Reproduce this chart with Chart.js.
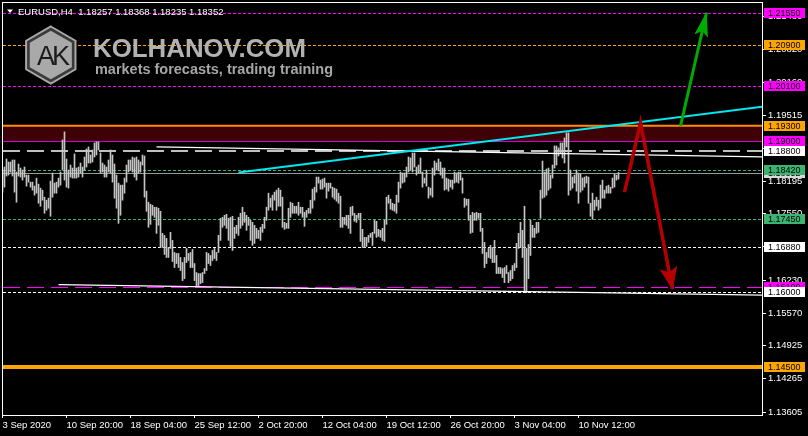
<!DOCTYPE html>
<html>
<head>
<meta charset="utf-8">
<script src="https://cdn.jsdelivr.net/npm/chart.js@4"></script>
<style>
html, body { margin: 0; padding: 0; background: #000; }
#chart { display: block; }
</style>
</head>
<body>
<canvas id="chart" width="808" height="436"></canvas>
<script>
// ---- data ----
const symbolTitle = "EURUSD,H4  1.18257 1.18368 1.18235 1.18352";
const brandName = "KOLHANOV.COM";
const brandTagline = "markets forecasts, trading training";

const xTickLabels = ["3 Sep 2020", "10 Sep 20:00", "18 Sep 04:00", "25 Sep 12:00", "2 Oct 20:00",
    "12 Oct 04:00", "19 Oct 12:00", "26 Oct 20:00", "3 Nov 04:00", "10 Nov 12:00"];
const barsPerLabel = 32;

const yTicks = [1.21480, 1.20820, 1.20160, 1.19515, 1.18855, 1.18195, 1.17550,
    1.16890, 1.16230, 1.15570, 1.14925, 1.14265, 1.13605];

const barHigh = [
    1.1842, 1.1848, 1.1864, 1.1858, 1.1858, 1.1862, 1.1862, 1.1838, 1.1854, 1.1846,
    1.1842, 1.1848, 1.1832, 1.1832, 1.1818, 1.1818, 1.1810, 1.1826, 1.1814, 1.1806,
    1.1802, 1.1788, 1.1782, 1.1786, 1.1820, 1.1836, 1.1816, 1.1818, 1.1826, 1.1838,
    1.1902, 1.1918, 1.1864, 1.1842, 1.1852, 1.1846, 1.1874, 1.1846, 1.1848, 1.1856,
    1.1848, 1.1868, 1.1884, 1.1888, 1.1872, 1.1882, 1.1896, 1.1898, 1.1898, 1.1876,
    1.1856, 1.1852, 1.1848, 1.1862, 1.1882, 1.1872, 1.1854, 1.1832, 1.1816, 1.1812,
    1.1812, 1.1826, 1.1852, 1.1862, 1.1862, 1.1868, 1.1866, 1.1868, 1.1862, 1.1858,
    1.1872, 1.1870, 1.1800, 1.1778, 1.1774, 1.1772, 1.1768, 1.1768, 1.1766, 1.1760,
    1.1716, 1.1712, 1.1706, 1.1688, 1.1718, 1.1702, 1.1678, 1.1676, 1.1676, 1.1668,
    1.1658, 1.1668, 1.1686, 1.1676, 1.1678, 1.1684, 1.1656, 1.1638, 1.1636, 1.1636,
    1.1638, 1.1646, 1.1678, 1.1676, 1.1672, 1.1682, 1.1686, 1.1678, 1.1712, 1.1746,
    1.1748, 1.1752, 1.1754, 1.1746, 1.1748, 1.1750, 1.1728, 1.1732, 1.1748, 1.1756,
    1.1768, 1.1758, 1.1752, 1.1748, 1.1742, 1.1738, 1.1732, 1.1726, 1.1722, 1.1728,
    1.1734, 1.1748, 1.1768, 1.1796,
    1.1786, 1.1792, 1.1798, 1.1802, 1.1806, 1.1802,
    1.1788, 1.1738, 1.1736, 1.1766, 1.1778, 1.1776, 1.1770, 1.1770, 1.1778, 1.1768,
    1.1768, 1.1758, 1.1762, 1.1766, 1.1782, 1.1804, 1.1808, 1.1828, 1.1828, 1.1822,
    1.1824, 1.1826, 1.1816, 1.1816, 1.1816, 1.1808, 1.1806, 1.1804, 1.1796, 1.1790,
    1.1748, 1.1748, 1.1752, 1.1752, 1.1768, 1.1770, 1.1756, 1.1752, 1.1756, 1.1756,
    1.1724, 1.1708, 1.1708, 1.1712, 1.1716, 1.1718, 1.1742, 1.1740, 1.1724, 1.1722,
    1.1726, 1.1742, 1.1788, 1.1792, 1.1784, 1.1776, 1.1774, 1.1792, 1.1818, 1.1838,
    1.1836, 1.1836, 1.1848, 1.1868, 1.1866, 1.1876, 1.1876, 1.1848, 1.1852, 1.1866,
    1.1838, 1.1826, 1.1842, 1.1808, 1.1806, 1.1846, 1.1860, 1.1856, 1.1864, 1.1858,
    1.1846, 1.1846, 1.1826, 1.1824, 1.1822, 1.1822, 1.1838, 1.1836, 1.1838, 1.1838,
    1.1826, 1.1786, 1.1784, 1.1784, 1.1752, 1.1758, 1.1756, 1.1758, 1.1756, 1.1756,
    1.1726, 1.1698, 1.1678, 1.1686, 1.1692, 1.1688, 1.1702, 1.1672, 1.1648, 1.1648,
    1.1646, 1.1648, 1.1652, 1.1638, 1.1642, 1.1652, 1.1656, 1.1696, 1.1716, 1.1738,
    1.1722, 1.1770, 1.1686, 1.1694, 1.1742, 1.1732, 1.1726, 1.1738, 1.1738,
    1.1802, 1.1860, 1.1838, 1.1844, 1.1846, 1.1832, 1.1852, 1.1890, 1.1890, 1.1886, 1.1896,
    1.1896, 1.1906, 1.1916, 1.1916, 1.1842, 1.1828, 1.1832, 1.1842, 1.1836, 1.1834,
    1.1826, 1.1828, 1.1830, 1.1828, 1.1776, 1.1796, 1.1782, 1.1788, 1.1782, 1.1812,
    1.1822, 1.1802, 1.1810, 1.1812, 1.1808, 1.1826, 1.1834, 1.1832, 1.1837
];
const barLow = [
    1.1798, 1.1808, 1.1830, 1.1832, 1.1838, 1.1830, 1.1798, 1.1778, 1.1830, 1.1828,
    1.1822, 1.1828, 1.1810, 1.1818, 1.1808, 1.1802, 1.1792, 1.1796, 1.1776, 1.1770,
    1.1782, 1.1756, 1.1762, 1.1766, 1.1750, 1.1788, 1.1796, 1.1796, 1.1808, 1.1812,
    1.1842, 1.1822, 1.1808, 1.1806, 1.1828, 1.1826, 1.1826, 1.1826, 1.1828, 1.1836,
    1.1828, 1.1842, 1.1848, 1.1856, 1.1856, 1.1858, 1.1868, 1.1872, 1.1882, 1.1836,
    1.1838, 1.1828, 1.1828, 1.1838, 1.1836, 1.1818, 1.1786, 1.1766, 1.1736, 1.1752,
    1.1782, 1.1796, 1.1818, 1.1838, 1.1842, 1.1838, 1.1828, 1.1822, 1.1836, 1.1838,
    1.1852, 1.1788, 1.1760, 1.1728, 1.1734, 1.1752, 1.1748, 1.1716, 1.1732, 1.1688,
    1.1688, 1.1674, 1.1668, 1.1668, 1.1686, 1.1660, 1.1648, 1.1656, 1.1648, 1.1642,
    1.1622, 1.1626, 1.1658, 1.1662, 1.1648, 1.1648, 1.1622, 1.1612, 1.1612, 1.1616,
    1.1618, 1.1636, 1.1642, 1.1656, 1.1652, 1.1662, 1.1666, 1.1662, 1.1678, 1.1702,
    1.1728, 1.1732, 1.1726, 1.1702, 1.1690, 1.1682, 1.1706, 1.1716, 1.1712, 1.1726,
    1.1732, 1.1738, 1.1722, 1.1732, 1.1702, 1.1692, 1.1696, 1.1706, 1.1706, 1.1702,
    1.1718, 1.1726, 1.1742, 1.1762,
    1.1768, 1.1762, 1.1782, 1.1762, 1.1770, 1.1770,
    1.1728, 1.1724, 1.1726, 1.1726, 1.1748, 1.1756, 1.1756, 1.1756, 1.1752, 1.1756,
    1.1748, 1.1730, 1.1748, 1.1756, 1.1756, 1.1766, 1.1782, 1.1798, 1.1816, 1.1804,
    1.1804, 1.1808, 1.1786, 1.1800, 1.1806, 1.1788, 1.1784, 1.1780, 1.1776, 1.1728,
    1.1728, 1.1734, 1.1732, 1.1726, 1.1716, 1.1752, 1.1740, 1.1738, 1.1746, 1.1700,
    1.1688, 1.1688, 1.1690, 1.1698, 1.1708, 1.1692, 1.1716, 1.1708, 1.1710, 1.1708,
    1.1702, 1.1700, 1.1734, 1.1776, 1.1764, 1.1762, 1.1760, 1.1756, 1.1778, 1.1806,
    1.1816, 1.1818, 1.1828, 1.1838, 1.1842, 1.1838, 1.1848, 1.1832, 1.1836, 1.1836,
    1.1808, 1.1816, 1.1810, 1.1786, 1.1792, 1.1788, 1.1832, 1.1842, 1.1840, 1.1832,
    1.1826, 1.1802, 1.1804, 1.1800, 1.1808, 1.1804, 1.1816, 1.1818, 1.1816, 1.1822,
    1.1796, 1.1768, 1.1772, 1.1742, 1.1716, 1.1718, 1.1742, 1.1742, 1.1746, 1.1720,
    1.1676, 1.1648, 1.1656, 1.1668, 1.1666, 1.1658, 1.1658, 1.1636, 1.1636, 1.1636,
    1.1628, 1.1618, 1.1636, 1.1618, 1.1622, 1.1626, 1.1642, 1.1648, 1.1686, 1.1688,
    1.1668, 1.1600, 1.1598, 1.1626, 1.1672, 1.1708, 1.1708, 1.1716, 1.1718,
    1.1746, 1.1786, 1.1788, 1.1792, 1.1802, 1.1806, 1.1826, 1.1846, 1.1852, 1.1870, 1.1876,
    1.1866, 1.1856, 1.1888, 1.1792, 1.1802, 1.1806, 1.1816, 1.1800, 1.1776, 1.1798,
    1.1802, 1.1808, 1.1816, 1.1776, 1.1750, 1.1744, 1.1762, 1.1770, 1.1762, 1.1766,
    1.1786, 1.1786, 1.1796, 1.1796, 1.1796, 1.1806, 1.1808, 1.1822, 1.1824
];

const bidPrice = 1.18352;
const levelPrices = [1.2155, 1.2090, 1.2010, 1.1930, 1.1900, 1.1880, 1.1842, 1.1745, 1.1688, 1.1610, 1.1600, 1.1450];
const zonePrices = [1.1930, 1.1900];

// trend lines and arrows: bar index / price pairs
const cyanTrendBars = [118, 380];
const cyanTrendPrices = [1.1837, 1.1968];
const upperTrendBars = [77, 380];
const upperTrendPrices = [1.1888, 1.1868];
const lowerTrendBars = [28, 380];
const lowerTrendPrices = [1.1614, 1.1593];
const greenArrowBars = [339, 352];
const greenArrowPrices = [1.1930, 1.2155];
const redArrowBars = [311, 319, 335];
const redArrowPrices = [1.1798, 1.1936, 1.1605];

// ---- styles ----
const FONT = "Liberation Sans";
const levelStyles = [
    {color: "#ff00ff", width: 1, dash: [3, 2]},
    {color: "#ffa500", width: 1, dash: [3, 2]},
    {color: "#ff00ff", width: 1, dash: [3, 2]},
    {color: "#ff8c00", width: 2, dash: []},
    {color: "#d000d0", width: 1, dash: []},
    {color: "#ffffff", width: 1.5, dash: [17, 7]},
    {color: "#3cb371", width: 1, dash: [3, 2]},
    {color: "#3cb371", width: 1, dash: [3, 2]},
    {color: "#ffffff", width: 1, dash: [3, 2]},
    {color: "#ff00ff", width: 1, dash: [17, 7]},
    {color: "#ffffff", width: 1, dash: [3, 2]},
    {color: "#ffa500", width: 4, dash: []}
];
const boxColors = ["#ff00ff", "#ffa500", "#ff00ff", "#ffa500", "#ff00ff", "#ffffff",
    "#3cb371", "#3cb371", "#ffffff", "#ff00ff", "#ffffff", "#ffa500"];

function pairs(xs, ys) {
    return xs.map((x, i) => ({x: x, y: ys[i]}));
}

const levelsPlugin = {
    id: "levels",
    beforeDatasetsDraw(chart) {
        const {ctx, chartArea: a, scales: {y}} = chart;
        ctx.save();
        ctx.beginPath();
        ctx.rect(a.left, a.top, a.right - a.left, a.bottom - a.top);
        ctx.clip();
        // zone
        const zt = y.getPixelForValue(zonePrices[0]);
        const zb = y.getPixelForValue(zonePrices[1]);
        ctx.fillStyle = "#3e0206";
        ctx.fillRect(a.left, zt, a.right - a.left, zb - zt);
        // bid line
        const by = Math.round(y.getPixelForValue(bidPrice)) + 0.5;
        ctx.strokeStyle = "#9a9a9a";
        ctx.lineWidth = 1;
        ctx.setLineDash([]);
        ctx.beginPath(); ctx.moveTo(a.left, by); ctx.lineTo(a.right, by); ctx.stroke();
        levelPrices.forEach((p, i) => {
            const st = levelStyles[i];
            let py = y.getPixelForValue(p);
            if (st.width % 2 === 1) py = Math.round(py) + 0.5;
            ctx.strokeStyle = st.color;
            ctx.lineWidth = st.width;
            ctx.setLineDash(st.dash);
            ctx.beginPath(); ctx.moveTo(a.left + 1, py); ctx.lineTo(a.right, py); ctx.stroke();
        });
        ctx.restore();
    },
    afterDatasetsDraw(chart) {
        const ctx = chart.ctx;
        // arrow heads
        chart.data.datasets.forEach((ds, i) => {
            if (!ds.arrowHead) return;
            const pts = chart.getDatasetMeta(i).data;
            const a = pts[pts.length - 2], b = pts[pts.length - 1];
            const ang = Math.atan2(b.y - a.y, b.x - a.x);
            const len = ds.arrowHead[0], half = ds.arrowHead[1];
            ctx.save();
            ctx.translate(b.x, b.y);
            ctx.rotate(ang);
            ctx.fillStyle = ds.borderColor;
            ctx.beginPath();
            ctx.moveTo(1, 0);
            ctx.lineTo(-len, -half);
            ctx.lineTo(-len * 0.78, 0);
            ctx.lineTo(-len, half);
            ctx.closePath();
            ctx.fill();
            ctx.restore();
        });
    },
    afterDraw(chart) {
        const {ctx, chartArea: a, scales: {y}} = chart;
        ctx.save();
        // frame
        ctx.strokeStyle = "#ffffff";
        ctx.lineWidth = 1;
        ctx.setLineDash([]);
        ctx.strokeRect(a.left + 0.5, a.top + 0.5, a.right - a.left, a.bottom - a.top);

        // price boxes on the right scale
        ctx.font = "9px '" + FONT + "'";
        ctx.textBaseline = "middle";
        ctx.textAlign = "left";
        const drawBox = (p, col) => {
            const py = Math.round(y.getPixelForValue(p));
            ctx.fillStyle = col;
            ctx.fillRect(a.right + 2, py - 5, 41, 10);
            ctx.fillStyle = "#000000";
            ctx.fillText(p.toFixed(5), a.right + 6, py + 0.5);
        };
        drawBox(bidPrice, "#d8d8d8");
        levelPrices.forEach((p, i) => drawBox(p, boxColors[i]));

        // title
        ctx.fillStyle = "#ffffff";
        ctx.beginPath();
        ctx.moveTo(7, 9.5); ctx.lineTo(13, 9.5); ctx.lineTo(10, 13); ctx.closePath();
        ctx.fill();
        ctx.textBaseline = "alphabetic";
        ctx.font = "9.5px '" + FONT + "'";
        ctx.fillText(symbolTitle, 18, 14.5);

        // logo
        const hex = (cx, cy, r) => {
            ctx.beginPath();
            for (let k = 0; k < 6; k++) {
                const t = (-90 + 60 * k) * Math.PI / 180;
                const px = cx + r * Math.cos(t), py = cy + r * Math.sin(t);
                if (k === 0) ctx.moveTo(px, py); else ctx.lineTo(px, py);
            }
            ctx.closePath();
        };
        hex(50.8, 55, 28.5);
        ctx.fillStyle = "#3a3a3a";
        ctx.fill();
        ctx.strokeStyle = "#a8a8a8";
        ctx.lineWidth = 2;
        ctx.stroke();
        hex(50.8, 55, 24.3);
        ctx.fillStyle = "#a9a9a9";
        ctx.fill();
        ctx.fillStyle = "#1c1c1c";
        ctx.font = "27px '" + FONT + "'";
        ctx.textAlign = "center";
        ctx.letterSpacing = "-3px";
        ctx.fillText("AK", 52, 65);
        ctx.letterSpacing = "0px";

        ctx.textAlign = "left";
        ctx.fillStyle = "#b2b2b2";
        ctx.font = "bold 26px '" + FONT + "'";
        ctx.fillText(brandName, 93, 57, 213);
        ctx.fillStyle = "#a6a6a6";
        ctx.font = "bold 14.5px '" + FONT + "'";
        ctx.fillText(brandTagline, 95, 74, 238);
        ctx.restore();
    }
};

const ctx = document.getElementById("chart").getContext("2d");

new Chart(ctx, {
    type: "bar",
    data: {
        datasets: [
            {
                type: "line", data: pairs(greenArrowBars, greenArrowPrices),
                borderColor: "#00aa00", borderWidth: 3, pointRadius: 0, arrowHead: [24, 7]
            },
            {
                type: "line", data: pairs(redArrowBars, redArrowPrices),
                borderColor: "#b40000", borderWidth: 3.5, pointRadius: 0, arrowHead: [22, 9]
            },
            {
                type: "line", data: pairs(cyanTrendBars, cyanTrendPrices),
                borderColor: "#00e8f0", borderWidth: 2, pointRadius: 0
            },
            {
                type: "line", data: pairs(upperTrendBars, upperTrendPrices),
                borderColor: "#ffffff", borderWidth: 1.3, pointRadius: 0
            },
            {
                type: "line", data: pairs(lowerTrendBars, lowerTrendPrices),
                borderColor: "#ffffff", borderWidth: 1.3, pointRadius: 0
            },
            {
                type: "bar",
                data: barHigh.map((h, i) => ({x: i, y: [barLow[i], h]})),
                backgroundColor: "#c4c4c4",
                borderWidth: 0,
                barThickness: 1,
                grouped: false
            }
        ]
    },
    options: {
        responsive: false,
        animation: false,
        devicePixelRatio: 1,
        events: [],
        layout: {autoPadding: false, padding: {left: 2, top: 2, right: 0, bottom: 0}},
        plugins: {legend: {display: false}, tooltip: {enabled: false}, title: {display: false}},
        scales: {
            x: {
                type: "linear",
                min: -0.25,
                max: 379.75,
                offset: false,
                border: {display: false},
                grid: {display: true, offset: false, drawOnChartArea: false, drawTicks: true, tickLength: 3, color: "#ffffff"},
                afterBuildTicks: (s) => { s.ticks = xTickLabels.map((l, k) => ({value: k * barsPerLabel})); },
                afterFit: (s) => { s.height = 21; s.paddingLeft = 0; s.paddingRight = 0; },
                ticks: {
                    autoSkip: false, maxRotation: 0, minRotation: 0, align: "start", padding: 2,
                    color: "#ffffff", font: {family: FONT, size: 9.5},
                    callback: (v, i) => xTickLabels[i]
                }
            },
            y: {
                type: "linear",
                position: "right",
                min: 1.135453,
                max: 1.217642,
                border: {display: false},
                grid: {display: true, drawOnChartArea: false, drawTicks: true, tickLength: 4, color: "#ffffff"},
                afterBuildTicks: (s) => { s.ticks = yTicks.map(v => ({value: v})); },
                afterFit: (s) => { s.width = 46; s.paddingTop = 0; s.paddingBottom = 0; },
                ticks: {
                    padding: 2, color: "#ffffff", font: {family: FONT, size: 9.5},
                    callback: (v) => Number(v).toFixed(5)
                }
            }
        }
    },
    plugins: [levelsPlugin]
});
</script>
</body>
</html>
